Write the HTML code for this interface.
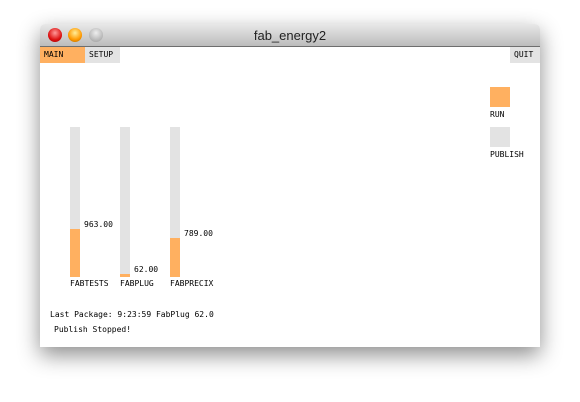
<!DOCTYPE html>
<html><head><style>
body{margin:0;width:580px;height:402px;background:#fff;position:relative;overflow:hidden;font-family:"DejaVu Sans Mono","Liberation Mono",monospace;}
.win{position:absolute;left:40px;top:24px;width:500px;height:323px;background:#fff;box-shadow:0 8px 22px rgba(0,0,0,0.45);border-radius:5px 5px 0 0;overflow:hidden}
.title{position:absolute;left:0;top:0;width:500px;height:22px;background:linear-gradient(#e8e8e8,#bcbcbc);border-bottom:1px solid #6e6e6e;font-family:"Liberation Sans",sans-serif;font-size:13px;text-align:center;line-height:23px;color:#222}
.dot{position:absolute;top:4px;width:14px;height:14px;border-radius:50%}
.t{position:absolute;font-size:8px;color:#000;white-space:nowrap;line-height:10px}
.tab{position:absolute;top:23px;height:16px;font-size:8px;line-height:16px;padding-left:4px;box-sizing:border-box}
</style></head><body>
<div class="win">
<div class="title">fab_energy2
<div class="dot" style="left:8px;background:radial-gradient(circle at 50% 35%,#f99,#d11 60%,#900)"></div>
<div class="dot" style="left:28px;background:radial-gradient(circle at 50% 35%,#fe9,#f90 60%,#a60)"></div>
<div class="dot" style="left:49px;background:radial-gradient(circle at 50% 35%,#eee,#bbb 60%,#999)"></div>
</div>
<div class="tab" style="left:0;width:45px;background:#ffb060">MAIN</div>
<div class="tab" style="left:45px;width:35px;background:#e3e3e3">SETUP</div>
<div class="tab" style="left:470px;width:30px;background:#e3e3e3">QUIT</div>
<div style="position:absolute;left:450px;top:63px;width:20px;height:20px;background:#ffb060"></div>
<div class="t" style="left:450px;top:86px">RUN</div>
<div style="position:absolute;left:450px;top:103px;width:20px;height:20px;background:#e3e3e3"></div>
<div class="t" style="left:450px;top:126px">PUBLISH</div>
<div id="bars"></div>
<div class="t" style="left:10px;top:286px">Last Package: 9:23:59  FabPlug 62.0</div>
<div class="t" style="left:14px;top:301px">Publish Stopped!</div>
</div>
<script>
const categories=["FABTESTS","FABPLUG","FABPRECIX"];
const values=[963,62,789];
const maxValue=3000;
const host=document.getElementById('bars');
const top0=103,h=150,w=10,x0=30,gap=50;
function y(v){return top0+h-v/maxValue*h;}
categories.forEach((c,i)=>{
  const x=x0+i*gap;
  const bg=document.createElement('div');
  
  
  bg.style.cssText=`position:absolute;left:${x}px;top:${top0}px;width:${w}px;height:${h}px;background:#e3e3e3`;
  host.appendChild(bg);
  const f=document.createElement('div');
  
  
  f.style.cssText=`position:absolute;left:${x}px;top:${y(values[i])}px;width:${w}px;height:${top0+h-y(values[i])}px;background:#ffb060`;
  host.appendChild(f);
  const v=document.createElement('div');
  v.className='t';
  
  
  v.style.left=(x+w+4)+'px';v.style.top=(y(values[i])-9)+'px';
  v.textContent=values[i].toFixed(2);
  host.appendChild(v);
  const l=document.createElement('div');
  l.className='t';
  
  
  l.style.left=x+'px';l.style.top=(top0+h+2)+'px';
  l.textContent=c;
  host.appendChild(l);
});
</script>
</body></html>
